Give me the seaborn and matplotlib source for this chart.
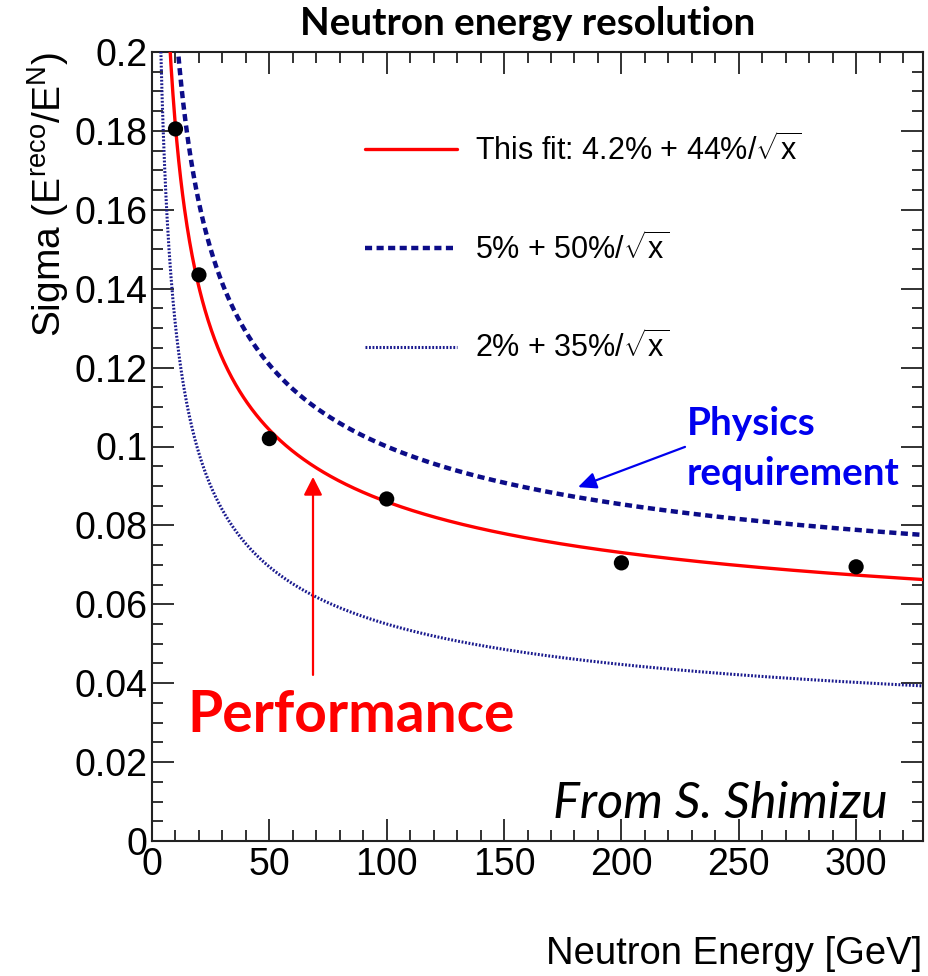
import numpy as np
import pandas as pd
import matplotlib
matplotlib.use("Agg")
import matplotlib.pyplot as plt
from matplotlib.ticker import MultipleLocator, FixedLocator, FixedFormatter
import seaborn as sns

# ---------------- data ----------------
energies = [10, 20, 50, 100, 200, 300]
sigma_points = [0.1805, 0.1435, 0.102, 0.0867, 0.0705, 0.0695]

curve_labels = [r"This fit: 4.2% + 44%/$\sqrt{\mathrm{x}}$",
                r"5% + 50%/$\sqrt{\mathrm{x}}$",
                r"2% + 35%/$\sqrt{\mathrm{x}}$"]
const_terms = [0.042, 0.05, 0.02]
stoch_terms = [0.44, 0.50, 0.35]

x_ticks = [0, 50, 100, 150, 200, 250, 300]
y_ticks = [0, 0.02, 0.04, 0.06, 0.08, 0.1, 0.12, 0.14, 0.16, 0.18, 0.2]
y_tick_labels = ["0", "0.02", "0.04", "0.06", "0.08", "0.1", "0.12", "0.14", "0.16", "0.18", "0.2"]

title_text = "Neutron energy resolution"
xlabel_text = "Neutron Energy [GeV]"
ylabel_text = r"Sigma (E$^{\mathrm{reco}}$/E$^{\mathrm{N}}$)"

# ---------------- style ----------------
sns.set_theme(style="ticks")
plt.rcParams["font.family"] = ["Liberation Sans", "DejaVu Sans"]
plt.rcParams["text.color"] = "black"
plt.rcParams["mathtext.fontset"] = "custom"
plt.rcParams["mathtext.rm"] = "Liberation Sans"
plt.rcParams["mathtext.it"] = "Liberation Sans:italic"
plt.rcParams["mathtext.bf"] = "Liberation Sans:bold"

RED = "#ff0000"
NAVY = "#0c0c88"
NAVY_LIGHT = "#1a1a8e"
BLUE_TXT = "#0000ee"

W, H = 929, 976
fig = plt.figure(figsize=(W / 100, H / 100), dpi=100)
ax = fig.add_axes([152 / W, 1 - 841 / H, 771 / W, 789 / H])

XMAX = 328.5
xs = np.linspace(1.0, XMAX, 1200)
styles = [
    dict(color=RED, lw=2.4, linestyle="-"),
    dict(color=NAVY, lw=3.2, linestyle=(0, (1.6, 1.0)), dash_capstyle="butt"),
    dict(color=NAVY_LIGHT, lw=2.2, linestyle=(0, (0.6, 0.55)), dash_capstyle="butt"),
]
for lab, c, s, st in zip(curve_labels, const_terms, stoch_terms, styles):
    df = pd.DataFrame({"E": xs, "sigma": c + s / np.sqrt(xs)})
    sns.lineplot(data=df, x="E", y="sigma", ax=ax, label=lab, zorder=3, **st)

sns.scatterplot(x=energies, y=sigma_points, ax=ax, color="black", s=120,
                edgecolor="none", zorder=5, legend=False)

ax.set_xlim(0, XMAX)
ax.set_ylim(0, 0.2)

# ticks (ROOT style: inside, all four sides)
ax.xaxis.set_major_locator(FixedLocator(x_ticks))
ax.yaxis.set_major_locator(FixedLocator(y_ticks))
ax.yaxis.set_major_formatter(FixedFormatter(y_tick_labels))
ax.xaxis.set_minor_locator(MultipleLocator(10))
ax.yaxis.set_minor_locator(MultipleLocator(0.005))
ax.tick_params(which="both", direction="in", top=True, right=True,
               colors="#222222", labelcolor="black")
ax.tick_params(which="major", length=16, width=1.3, labelsize=27)
ax.tick_params(which="minor", length=8, width=1.3)
ax.tick_params(axis="x", which="major", pad=4)
ax.tick_params(axis="y", which="major", pad=3)
for sp in ax.spines.values():
    sp.set_visible(True)
    sp.set_linewidth(1.5)
    sp.set_color("#222222")
ax.set_xlabel("")
ax.set_ylabel("")

# legend
leg = ax.legend(loc="upper left", bbox_to_anchor=(0.2763, 0.896), frameon=False,
                fontsize=22, handlelength=3.0, handletextpad=0.6,
                labelspacing=2.15, borderpad=0, borderaxespad=0)
for t in leg.get_texts():
    t.set_color("black")

# axis labels
fig.text(922 / W, 1 - 964 / H, xlabel_text, ha="right", va="baseline", fontsize=27.5)
fig.text(61 / W, 1 - 52 / H, ylabel_text, rotation=90, rotation_mode="anchor",
         ha="right", va="baseline", fontsize=28)

# title
t_title = fig.text(527.5 / W, 1 - 35 / H, title_text, ha="center", va="baseline",
                   fontsize=22, fontweight="bold", family=["Lato", "DejaVu Sans"],
                   color="black")

# annotations
t_perf = ax.text(84.8, 0.0276, "Performance", color=RED, fontsize=40, fontweight="bold",
                 ha="center", va="baseline", family=["Lato", "DejaVu Sans"])
t_phys1 = ax.text(228.0, 0.1029, "Physics", color=BLUE_TXT, fontsize=24, fontweight="bold",
                  ha="left", va="baseline", family=["Lato", "DejaVu Sans"])
t_phys2 = ax.text(228.0, 0.0902, "requirement", color=BLUE_TXT, fontsize=24, fontweight="bold",
                  ha="left", va="baseline", family=["Lato", "DejaVu Sans"])
t_from = ax.text(313.6, 0.0058, "From S. Shimizu", color="black", fontsize=30,
                 style="italic", ha="right", va="baseline", family=["Lato", "DejaVu Sans"])

ax.annotate("", xy=(181.5, 0.0897), xytext=(227.1, 0.0999),
            arrowprops=dict(arrowstyle="-|>,head_length=0.55,head_width=0.25",
                            mutation_scale=20, color=BLUE_TXT, lw=1.6,
                            shrinkA=0, shrinkB=0), zorder=6)
ax.annotate("", xy=(68.6, 0.0923), xytext=(68.6, 0.0421),
            arrowprops=dict(arrowstyle="-|>,head_length=0.55,head_width=0.28",
                            mutation_scale=20, color=RED, lw=1.6,
                            shrinkA=0, shrinkB=0), zorder=6)

# fit font sizes of free texts to the reference widths (pixels)
renderer = fig.canvas.get_renderer()
targets = [(t_title, 455), (t_perf, 327), (t_phys2, 213), (t_from, 335)]
for _ in range(3):
    for t, wpx in targets:
        wcur = t.get_window_extent(renderer).width
        t.set_fontsize(t.get_fontsize() * wpx / wcur)
t_phys1.set_fontsize(t_phys2.get_fontsize())

fig.savefig("out.png", dpi=100)
